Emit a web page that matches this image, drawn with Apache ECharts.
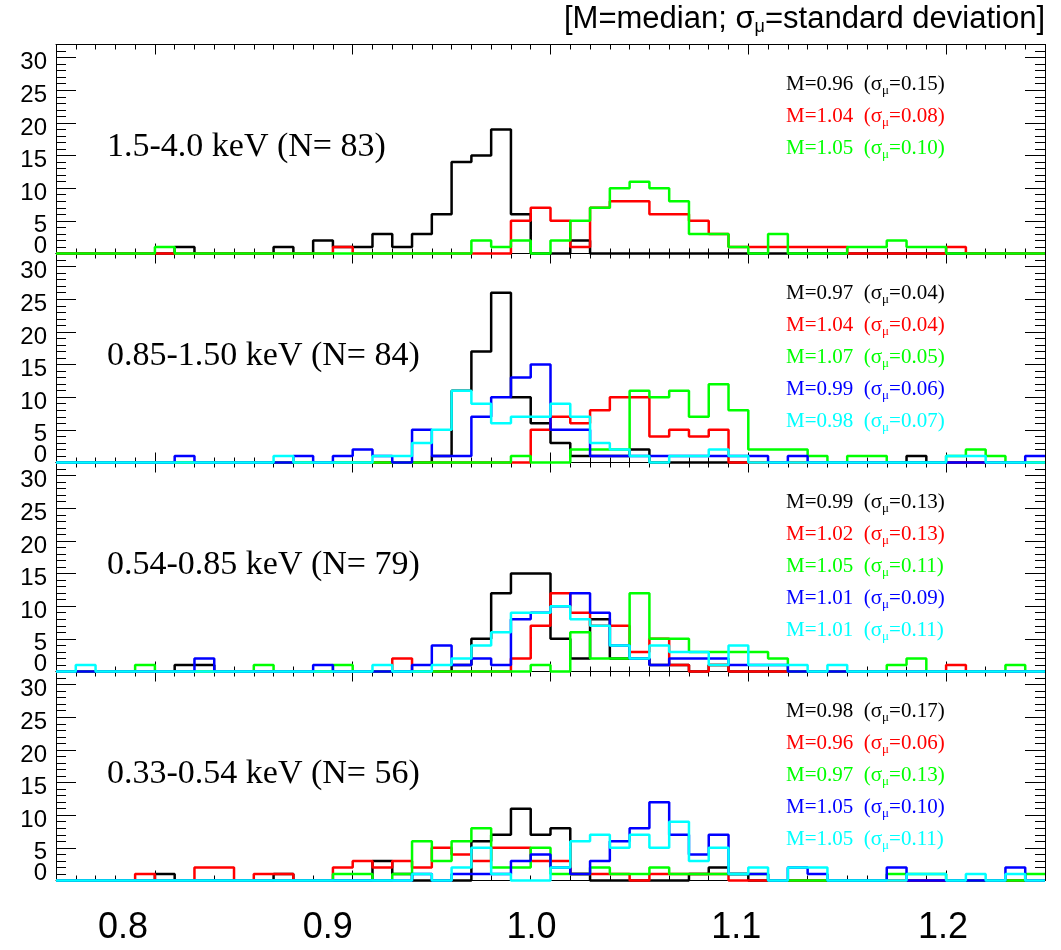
<!DOCTYPE html>
<html><head><meta charset="utf-8">
<script src="https://cdn.jsdelivr.net/npm/echarts@6/dist/echarts.min.js"></script>
<style>html,body{margin:0;padding:0;background:#fff}#c{width:1061px;height:950px}</style>
</head><body><div id="c"></div><script>
// ---------------- data ----------------
const binStart = 0.75;
const binWidth = 0.01;
const xTickValues = [0.8, 0.9, 1.0, 1.1, 1.2];
const yTickValues = [0, 5, 10, 15, 20, 25, 30];
const yLabelValuesUpper = [5, 10, 15, 20, 25, 30];
const yLabelValuesZero = [0];
const seriesNames = ['black', 'red', 'green', 'blue', 'cyan'];
const seriesColors = ['#000000', '#ff0000', '#00ff00', '#0000ff', '#00ffff'];
const panelLabels = ['1.5-4.0 keV (N= 83)', '0.85-1.50 keV (N= 84)', '0.54-0.85 keV (N= 79)', '0.33-0.54 keV (N= 56)'];
const titleText = '[M=median; σ{s|μ}=standard deviation]';

// panel 1 : 1.5-4.0 keV
const p1Black = [0,0,0,0,0,0,1,0,0,0, 0,1,0,2,1,1,3,1,3,6, 14,15,19,6,0,0,2,0,0,0, 0,0,0,0,0,0,0,0,0,0, 0,0,0,0,0,0,0,0,0,0];
const p1Red   = [0,0,0,0,0,0,0,0,0,0, 0,0,0,0,1,0,0,0,0,0, 0,0,0,5,7,5,1,7,8,8, 6,6,5,3,1,1,1,1,1,1, 0,0,0,0,0,1,0,0,0,0];
const p1Green = [0,0,0,0,0,1,0,0,0,0, 0,0,0,0,0,0,0,0,0,0, 0,2,1,2,0,2,5,7,10,11, 10,8,3,3,1,0,3,0,0,0, 1,1,2,1,1,0,0,0,0,0];
const p1Median = [0.96, 1.04, 1.05];
const p1Sigma  = [0.15, 0.08, 0.10];

// panel 2 : 0.85-1.50 keV
const p2Black = [0,0,0,0,0,0,0,0,0,0, 0,0,0,0,0,0,0,0,0,1, 11,17,26,10,6,3,1,1,1,2, 0,0,0,0,0,0,0,0,0,0, 0,0,0,1,0,0,0,0,0,0];
const p2Red   = [0,0,0,0,0,0,0,0,0,0, 0,0,0,0,0,0,0,0,0,0, 0,0,0,0,5,7,6,8,10,10, 4,5,4,5,0,0,0,0,0,0, 0,0,0,0,0,0,0,0,0,0];
const p2Green = [0,0,0,0,0,0,0,0,0,0, 0,0,0,0,0,0,0,0,0,0, 0,0,0,1,0,0,2,2,2,11, 10,11,7,12,8,2,2,2,1,0, 1,1,0,0,0,1,2,1,0,0];
const p2Blue  = [0,0,0,0,0,0,1,0,0,0, 0,0,1,0,1,2,1,0,5,1, 1,7,10,13,15,5,5,1,1,1, 1,1,1,1,1,1,0,1,0,0, 0,0,0,0,0,0,0,0,0,1];
const p2Cyan  = [0,0,0,0,0,0,0,0,0,0, 0,1,0,0,0,0,1,1,3,5, 11,9,6,7,7,9,7,3,2,1, 0,1,1,2,1,0,0,0,0,0, 0,0,0,0,0,1,1,0,0,0];
const p2Median = [0.97, 1.04, 1.07, 0.99, 0.98];
const p2Sigma  = [0.04, 0.04, 0.05, 0.06, 0.07];

// panel 3 : 0.54-0.85 keV
const p3Black = [0,0,0,0,0,0,1,1,0,0, 0,0,0,0,0,0,0,0,0,0, 1,5,12,15,15,5,2,8,2,2, 1,1,0,1,0,0,0,0,0,0, 0,0,0,0,0,0,0,0,0,0];
const p3Red   = [0,0,0,0,0,0,0,0,0,0, 0,0,0,0,0,0,0,2,0,0, 0,0,0,2,7,12,9,7,7,3, 5,1,0,1,0,0,0,0,0,0, 0,0,0,0,0,1,0,0,0,0];
const p3Green = [0,0,0,0,1,0,0,0,0,0, 1,0,0,0,1,0,0,0,0,0, 0,0,0,0,1,0,6,2,2,12, 5,5,3,3,3,3,2,0,0,0, 0,0,1,2,0,0,0,0,1,0];
const p3Blue  = [0,0,0,0,0,0,0,2,0,0, 0,0,0,1,0,0,0,0,1,4, 1,2,1,8,9,10,12,9,4,2, 1,2,2,2,1,1,1,0,0,0, 0,0,0,0,0,0,0,0,0,0];
const p3Cyan  = [0,1,0,0,0,0,0,0,0,0, 0,0,0,0,0,0,1,0,0,1, 2,4,6,9,9,10,8,7,4,2, 4,3,3,1,4,1,1,1,0,1, 0,0,0,0,0,0,0,0,0,0];
const p3Median = [0.99, 1.02, 1.05, 1.01, 1.01];
const p3Sigma  = [0.13, 0.13, 0.11, 0.09, 0.11];

// panel 4 : 0.33-0.54 keV
const p4Black = [0,0,0,0,0,1,0,0,0,0, 0,1,0,0,0,0,3,1,0,0, 0,6,7,11,7,8,1,0,0,0, 0,0,1,2,1,0,0,0,0,0, 0,0,0,0,0,0,0,0,0,0];
const p4Red   = [0,0,0,0,1,0,0,2,2,0, 1,1,0,0,2,3,2,3,2,5, 4,3,5,5,3,3,1,1,1,0, 1,1,1,1,0,0,0,0,0,0, 0,0,0,0,0,0,0,0,0,0];
const p4Green = [0,0,0,0,0,0,0,0,0,0, 0,0,0,0,1,1,0,1,6,3, 6,8,2,2,5,1,1,2,1,1, 2,1,1,1,1,1,0,0,0,0, 0,0,1,1,1,0,0,0,0,1];
const p4Blue  = [0,0,0,0,0,0,0,0,0,0, 0,0,0,0,0,0,0,0,1,0, 1,1,1,3,4,2,1,3,6,8, 12,7,4,7,1,1,0,2,1,0, 0,0,2,0,0,0,0,0,2,0];
const p4Cyan  = [0,0,0,0,0,0,0,0,0,0, 0,0,0,0,0,0,0,0,1,0, 2,5,1,0,0,2,6,7,5,7, 5,9,3,5,1,2,0,2,2,0, 0,0,0,1,1,0,1,0,1,0];
const p4Median = [0.98, 0.96, 0.97, 1.05, 1.05];
const p4Sigma  = [0.17, 0.06, 0.13, 0.10, 0.11];

const panels = [
  {hist: [p1Black, p1Red, p1Green], med: p1Median, sig: p1Sigma},
  {hist: [p2Black, p2Red, p2Green, p2Blue, p2Cyan], med: p2Median, sig: p2Sigma},
  {hist: [p3Black, p3Red, p3Green, p3Blue, p3Cyan], med: p3Median, sig: p3Sigma},
  {hist: [p4Black, p4Red, p4Green, p4Blue, p4Cyan], med: p4Median, sig: p4Sigma}
];

// ---------------- layout ----------------
const L = 56, R = 1045, TOP0 = 44.5, PH = 209;
const xMin = 0.75, xMax = 1.25, yMin = 0, yMax = 32;
const pxPerUnit = PH / (yMax - yMin);
// the reference prints its y tick labels a few pixels off their ticks
const upperLabelDrop = 5;   // px, labels 5..30 sit slightly below their ticks
const zeroLabelLift = 7;    // px, "0" sits above the panel floor
// and its x tick labels drift left of their ticks
const xLabelShift = [32, 25, 19, 12, 3];

const grids = [], xAxes = [], yAxes = [], series = [], graphics = [];
const black = '#000';

panels.forEach((p, k) => {
  const top = TOP0 + PH * k;
  grids.push({left: L, width: R - L, top: top, height: PH});
  const xb = {gridIndex: k, type: 'value', min: xMin, max: xMax, splitLine: {show: false},
    axisLine: {show: true, onZero: false, lineStyle: {color: black, width: 1}}, axisLabel: {show: false}};
  const xi = xAxes.length;
  xAxes.push(Object.assign({}, xb, {position: 'bottom', interval: 0.01,
    axisTick: {show: true, inside: true, length: 5, lineStyle: {color: black, width: 1}}}));
  const lastPanel = k === panels.length - 1;
  xAxes.push(Object.assign({}, xb, {position: 'bottom', axisLine: {show: false, onZero: false},
    axisTick: {show: true, inside: true, length: 10, customValues: xTickValues, lineStyle: {color: black, width: 1}},
    axisLabel: lastPanel ? {
      show: true, customValues: xTickValues, margin: 30, color: black, fontSize: 36,
      fontFamily: 'Liberation Sans', showMinLabel: true, showMaxLabel: true,
      formatter: (v) => { const i = xTickValues.findIndex(t => Math.abs(t - v) < 1e-6); return '{l' + i + '|' + v.toFixed(1) + '}'; },
      rich: Object.fromEntries(xLabelShift.map((d, i) => ['l' + i, {fontSize: 36, fontFamily: 'Liberation Sans', color: black, padding: [0, 2 * d, 0, 0]}]))
    } : {show: false}}));
  xAxes.push(Object.assign({}, xb, {position: 'top', interval: 0.01,
    axisTick: {show: true, inside: true, length: 5, lineStyle: {color: black, width: 1}}}));
  xAxes.push(Object.assign({}, xb, {position: 'top', axisLine: {show: false, onZero: false},
    axisTick: {show: true, inside: true, length: 10, customValues: xTickValues, lineStyle: {color: black, width: 1}}}));

  const yb = {gridIndex: k, type: 'value', min: yMin, max: yMax, splitLine: {show: false},
    axisLine: {show: true, onZero: false, lineStyle: {color: black, width: 1}}, axisLabel: {show: false}};
  const yi = yAxes.length;
  yAxes.push(Object.assign({}, yb, {position: 'left', interval: 1,
    axisTick: {show: true, inside: true, length: 10, lineStyle: {color: black, width: 1}}}));
  yAxes.push(Object.assign({}, yb, {position: 'left', axisLine: {show: false, onZero: false},
    axisTick: {show: true, inside: true, length: 20, customValues: yTickValues, lineStyle: {color: black, width: 1}}}));
  yAxes.push(Object.assign({}, yb, {position: 'right', interval: 1,
    axisTick: {show: true, inside: true, length: 10, lineStyle: {color: black, width: 1}}}));
  yAxes.push(Object.assign({}, yb, {position: 'right', axisLine: {show: false, onZero: false},
    axisTick: {show: true, inside: true, length: 20, customValues: yTickValues, lineStyle: {color: black, width: 1}}}));
  // label-only axes (nudged like the reference)
  const labelStyle = {show: true, margin: 9, color: black, fontSize: 24, fontFamily: 'Liberation Sans',
    showMinLabel: true, showMaxLabel: true};
  const dUp = upperLabelDrop / pxPerUnit, dZero = zeroLabelLift / pxPerUnit;
  yAxes.push({gridIndex: k, type: 'value', position: 'left', min: yMin + dUp, max: yMax + dUp,
    axisLine: {show: false, onZero: false}, axisTick: {show: false}, splitLine: {show: false},
    axisLabel: Object.assign({customValues: yLabelValuesUpper}, labelStyle)});
  yAxes.push({gridIndex: k, type: 'value', position: 'left', min: yMin - dZero, max: yMax - dZero,
    axisLine: {show: false, onZero: false}, axisTick: {show: false}, splitLine: {show: false},
    axisLabel: Object.assign({customValues: yLabelValuesZero}, labelStyle)});

  p.hist.forEach((vals, j) => {
    const data = vals.map((v, i) => [binStart + binWidth * i, v]);
    data.push([binStart + binWidth * vals.length, vals[vals.length - 1]]);
    series.push({
      type: 'line', name: panelLabels[k] + ' ' + seriesNames[j], xAxisIndex: xi, yAxisIndex: yi,
      data: data, step: 'end', showSymbol: false, symbol: 'none', clip: false,
      lineStyle: {color: seriesColors[j], width: 2.5}, itemStyle: {color: seriesColors[j]},
      z: 2 + j, animation: false, silent: true
    });
  });

  graphics.push({type: 'text', x: 107, y: top + 103, silent: true,
    style: {text: panelLabels[k], font: '34px "Liberation Serif"', fill: black, verticalAlign: 'middle', align: 'left'}});

  p.med.forEach((m, j) => {
    graphics.push({type: 'text', x: 786, y: top + 40 + 32 * j, silent: true,
      style: {text: 'M=' + m.toFixed(2) + '  (σ{s|μ}=' + p.sig[j].toFixed(2) + ')',
        font: '21px "Liberation Serif"', fill: seriesColors[j], verticalAlign: 'middle', align: 'left',
        rich: {s: {fontSize: 13, fontFamily: 'Liberation Serif', padding: [13, 0, 0, 0]}}}});
  });
});

graphics.push({type: 'text', x: 1045, y: 19, silent: true,
  style: {text: titleText, font: '31px "Liberation Sans"', fill: black, align: 'right', verticalAlign: 'middle',
    rich: {s: {fontSize: 18, fontFamily: 'Liberation Sans', padding: [17, 0, 0, 0]}}}});

const chart = echarts.init(document.getElementById('c'), null, {renderer: 'canvas'});
chart.setOption({
  animation: false,
  backgroundColor: '#ffffff',
  grid: grids, xAxis: xAxes, yAxis: yAxes, series: series, graphic: graphics
});
</script></body></html>
